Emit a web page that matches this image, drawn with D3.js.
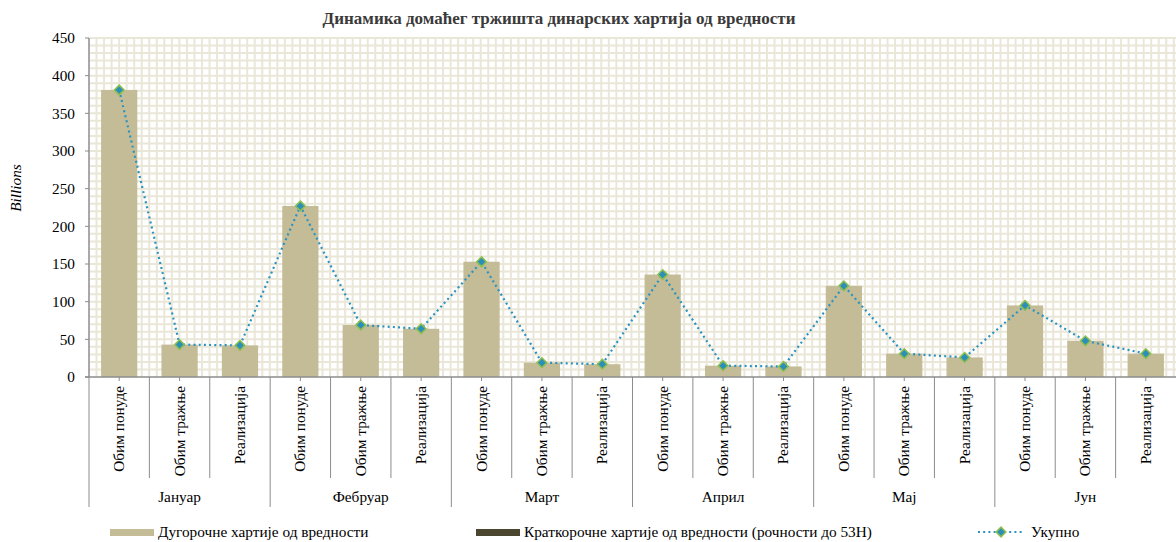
<!DOCTYPE html>
<html>
<head>
<meta charset="utf-8">
<script src="https://cdn.jsdelivr.net/npm/d3@7/dist/d3.min.js"></script>
<style>
  body { margin: 0; background: #fff; }
</style>
</head>
<body>
<div id="chart"></div>
<script>
// data
var months = ['Јануар', 'Фебруар', 'Март', 'Април', 'Мај', 'Јун'];
var kinds = ['Обим понуде', 'Обим тражње', 'Реализација'];
var longTerm = [381, 43, 42, 227, 69, 64, 153, 19, 17, 136, 15, 14, 121, 31, 26, 95, 48, 31];
var shortTerm = [0, 0, 0, 0, 0, 0, 0, 0, 0, 0, 0, 0, 0, 0, 0, 0, 0, 0];
var total = [381, 43, 42, 227, 69, 64, 153, 19, 17, 136, 15, 14, 121, 31, 26, 95, 48, 31];
var yTicks = [0, 50, 100, 150, 200, 250, 300, 350, 400, 450];
var legendNames = ['Дугорочне хартије од вредности', 'Краткорочне хартије од вредности (рочности до 53Н)', 'Укупно'];

(function() {
  var width = 1176, height = 542;
  var plotLeft = 89, plotRight = 1176, plotTop = 38, plotBottom = 377;
  var fontSize = 15.3;

  var svg = d3.select('#chart').append('svg')
    .attr('width', width)
    .attr('height', height)
    .attr('font-family', '"Liberation Serif", "Times New Roman", serif')
    .attr('fill', '#000');

  var cats = d3.range(months.length * kinds.length);

  var x = d3.scaleBand().domain(cats).range([plotLeft, plotRight]).paddingInner(0.4).paddingOuter(0.2);
  var xOuter = d3.scaleBand().domain(cats).range([plotLeft, plotRight]);
  var y = d3.scaleLinear().domain([0, 450]).range([plotBottom, plotTop]);

  // background grid (minor steps)
  var grid = svg.append('g');
  var gridStep = y(0) - y(10);
  grid.selectAll('.hg')
    .data(d3.range(10, 451, 10))
    .enter().append('line')
    .attr('x1', plotLeft + 1).attr('x2', plotRight)
    .attr('y1', function(d) { return y(d); })
    .attr('y2', function(d) { return y(d); })
    .attr('stroke', '#eae6d8').attr('stroke-width', 2);
  grid.selectAll('.vg')
    .data(d3.range(plotLeft + gridStep, plotRight, gridStep))
    .enter().append('line')
    .attr('x1', function(d) { return d; }).attr('x2', function(d) { return d; })
    .attr('y1', plotTop - 1).attr('y2', plotBottom)
    .attr('stroke', '#eae6d8').attr('stroke-width', 2);

  // title
  svg.append('text')
    .attr('x', 559).attr('y', 24)
    .attr('text-anchor', 'middle')
    .attr('font-weight', 'bold')
    .attr('font-size', 17)
    .attr('fill', '#3a3a3a')
    .text('Динамика домаћег тржишта динарских хартија од вредности');

  // bars (stacked)
  svg.selectAll('.bar')
    .data(cats)
    .enter().append('rect')
    .attr('x', function(d) { return x(d); })
    .attr('width', x.bandwidth())
    .attr('y', function(d) { return y(longTerm[d]); })
    .attr('height', function(d) { return y(0) - y(longTerm[d]); })
    .attr('fill', '#c4bc97');

  svg.selectAll('.bar2')
    .data(cats)
    .enter().append('rect')
    .attr('x', function(d) { return x(d); })
    .attr('width', x.bandwidth())
    .attr('y', function(d) { return y(longTerm[d] + shortTerm[d]); })
    .attr('height', function(d) { return y(longTerm[d]) - y(longTerm[d] + shortTerm[d]); })
    .attr('fill', '#4b4630');

  // y axis
  svg.append('line')
    .attr('x1', plotLeft).attr('x2', plotLeft).attr('y1', plotTop).attr('y2', plotBottom)
    .attr('stroke', '#8c8c8c').attr('stroke-width', 1.5);
  svg.selectAll('.ytick')
    .data(yTicks)
    .enter().append('line')
    .attr('x1', plotLeft - 4).attr('x2', plotLeft)
    .attr('y1', function(d) { return y(d); })
    .attr('y2', function(d) { return y(d); })
    .attr('stroke', '#8c8c8c').attr('stroke-width', 1);
  svg.selectAll('.ylab')
    .data(yTicks)
    .enter().append('text')
    .attr('x', plotLeft - 14)
    .attr('y', function(d) { return y(d); })
    .attr('dy', '0.35em')
    .attr('text-anchor', 'end')
    .attr('font-size', fontSize)
    .text(function(d) { return d; });

  svg.append('text')
    .attr('transform', 'translate(21,188) rotate(-90)')
    .attr('text-anchor', 'middle')
    .attr('font-style', 'italic')
    .attr('font-size', fontSize)
    .text('Billions');

  // x axis
  svg.append('line')
    .attr('x1', plotLeft - 4).attr('x2', plotRight).attr('y1', plotBottom).attr('y2', plotBottom)
    .attr('stroke', '#8c8c8c').attr('stroke-width', 1.5);
  svg.selectAll('.xtick')
    .data(cats)
    .enter().append('line')
    .attr('x1', function(d) { return xOuter(d) + xOuter.bandwidth() / 2; })
    .attr('x2', function(d) { return xOuter(d) + xOuter.bandwidth() / 2; })
    .attr('y1', plotBottom).attr('y2', plotBottom + 4)
    .attr('stroke', '#8c8c8c').attr('stroke-width', 1);

  // category separators
  svg.selectAll('.sep')
    .data(cats)
    .enter().append('line')
    .attr('x1', function(d) { return xOuter(d); })
    .attr('x2', function(d) { return xOuter(d); })
    .attr('y1', plotBottom)
    .attr('y2', function(d) { return d % 3 === 0 ? 507 : 478; })
    .attr('stroke', '#8c8c8c').attr('stroke-width', 1);

  svg.selectAll('.xlab')
    .data(cats)
    .enter().append('text')
    .attr('transform', function(d) {
      return 'translate(' + (xOuter(d) + xOuter.bandwidth() / 2 + 5) + ',386) rotate(-90)';
    })
    .attr('text-anchor', 'end')
    .attr('font-size', fontSize)
    .text(function(d) { return kinds[d % 3]; });

  svg.selectAll('.mlab')
    .data(months)
    .enter().append('text')
    .attr('x', function(d, i) { return xOuter(i * 3) + xOuter.bandwidth() * 1.5; })
    .attr('y', 502)
    .attr('text-anchor', 'middle')
    .attr('font-size', fontSize)
    .text(function(d) { return d; });

  // total line
  var cx = function(d) { return x(d) + x.bandwidth() / 2; };
  var line = d3.line()
    .x(function(d) { return cx(d); })
    .y(function(d) { return y(total[d]); });

  svg.append('path')
    .datum(cats)
    .attr('d', line)
    .attr('fill', 'none')
    .attr('stroke', '#2a93c1')
    .attr('stroke-width', 2.2)
    .attr('stroke-dasharray', '2,3.2');

  var diamond = d3.symbol().type(d3.symbolDiamond2).size(60);
  svg.selectAll('.mark')
    .data(cats)
    .enter().append('path')
    .attr('d', diamond)
    .attr('transform', function(d) { return 'translate(' + cx(d) + ',' + y(total[d]) + ')'; })
    .attr('fill', '#2a8fb9')
    .attr('stroke', '#8dbf4d')
    .attr('stroke-width', 1.5);

  // legend
  var ly = 532;
  svg.append('rect').attr('x', 110).attr('y', ly - 3).attr('width', 44).attr('height', 7).attr('fill', '#c4bc97');
  svg.append('text').attr('x', 158).attr('y', ly + 5).attr('font-size', fontSize).text(legendNames[0]);
  svg.append('rect').attr('x', 476).attr('y', ly - 3).attr('width', 44).attr('height', 7).attr('fill', '#4b4630');
  svg.append('text').attr('x', 524).attr('y', ly + 5).attr('font-size', fontSize).text(legendNames[1]);
  svg.append('line').attr('x1', 978).attr('x2', 1024).attr('y1', ly).attr('y2', ly)
    .attr('stroke', '#2a93c1').attr('stroke-width', 2.2).attr('stroke-dasharray', '2,3.2');
  svg.append('path').attr('d', diamond).attr('transform', 'translate(1001,' + ly + ')')
    .attr('fill', '#2a8fb9').attr('stroke', '#8dbf4d').attr('stroke-width', 1.5);
  svg.append('text').attr('x', 1031).attr('y', ly + 5).attr('font-size', fontSize).text(legendNames[2]);
})();
</script>
</body>
</html>
